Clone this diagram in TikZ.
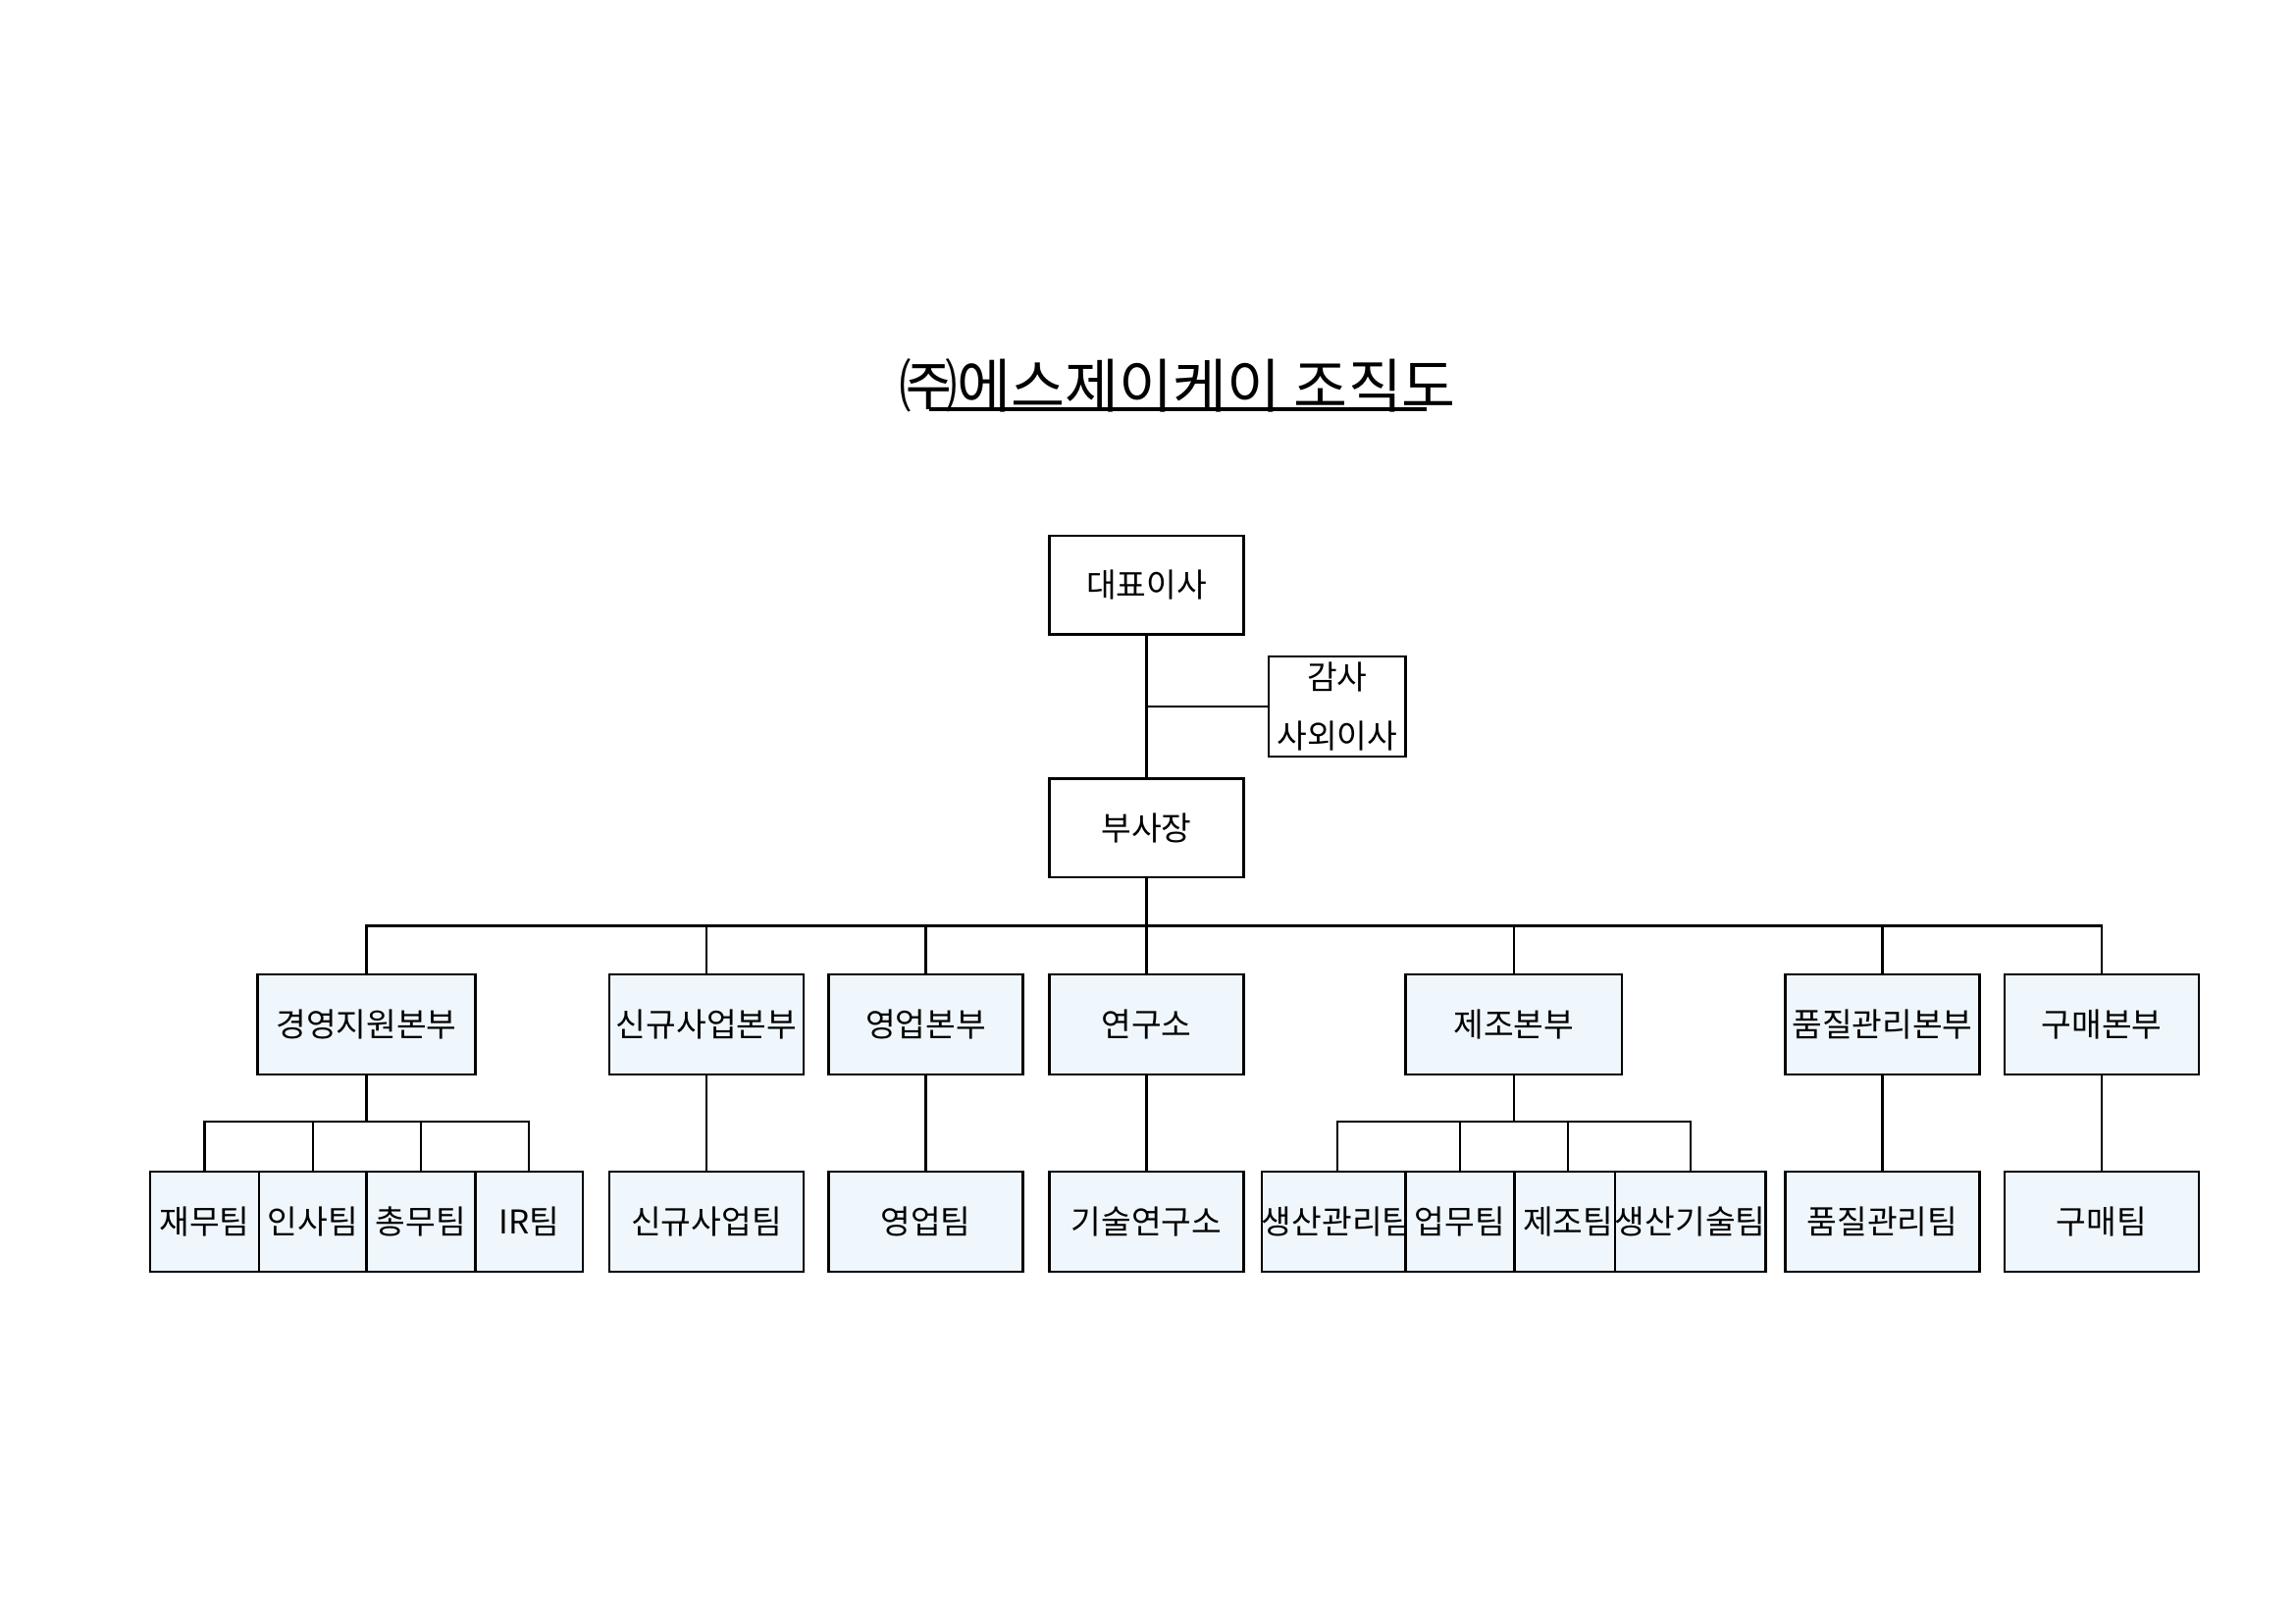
\documentclass[tikz,border=0pt]{standalone}
\usepackage{fontspec}
\setmainfont{Noto Sans CJK KR}
\definecolor{boxfill}{HTML}{F0F7FC}
\begin{document}
\begin{tikzpicture}[x=0.015cm,y=-0.015cm,
  bx/.style={draw,line width=0.7pt,inner sep=0pt,font=\fontsize{9.5}{11}\selectfont,align=center},
  wb/.style={bx,fill=white},
  lb/.style={bx,fill=boxfill},
  ln/.style={line width=0.7pt}]
\useasboundingbox (0,0) rectangle (1560,1102.7);
\fill[white] (0,0) rectangle (1560,1102.7);
\node[font=\fontsize{17}{20}\selectfont] (title) at (800,262) {㈜에스제이케이 조직도};
\draw[line width=0.9pt] (631,278) -- (969,278);
\newcommand{\bbox}[7]{\node[#1,minimum width=#4*0.015cm-#3*0.015cm,minimum height=#6*0.015cm-#5*0.015cm] (#2) at ({(#3+#4)/2},{(#5+#6)/2}) {#7};}
\bbox{wb}{ceo}{713}{845}{364}{431}{대표이사}
\bbox{wb}{aud}{862}{955}{446}{514}{감사\\[6pt]사외이사}
\bbox{wb}{vp}{713}{845}{529}{596}{부사장}
\bbox{lb}{d1}{175}{323}{662}{730}{경영지원본부}
\bbox{lb}{d2}{414}{546}{662}{730}{신규사업본부}
\bbox{lb}{d3}{563}{695}{662}{730}{영업본부}
\bbox{lb}{d4}{713}{845}{662}{730}{연구소}
\bbox{lb}{d5}{955}{1102}{662}{730}{제조본부}
\bbox{lb}{d6}{1213}{1345}{662}{730}{품질관리본부}
\bbox{lb}{d7}{1362}{1494}{662}{730}{구매본부}
\bbox{lb}{t1}{102}{176}{796}{864}{재무팀}
\bbox{lb}{t2}{176}{249}{796}{864}{인사팀}
\bbox{lb}{t3}{249}{323}{796}{864}{총무팀}
\bbox{lb}{t4}{323}{396}{796}{864}{IR팀}
\bbox{lb}{t5}{414}{546}{796}{864}{신규사업팀}
\bbox{lb}{t6}{563}{695}{796}{864}{영업팀}
\bbox{lb}{t7}{713}{845}{796}{864}{기술연구소}
\bbox{lb}{t8}{862}{955}{796}{864}{생산관리팀}
\bbox{lb}{t9}{955}{1029}{796}{864}{업무팀}
\bbox{lb}{t10}{1029}{1102}{796}{864}{제조팀}
\bbox{lb}{t11}{1102}{1195}{796}{864}{생산기술팀}
\bbox{lb}{t12}{1213}{1345}{796}{864}{품질관리팀}
\bbox{lb}{t13}{1362}{1494}{796}{864}{구매팀}
\draw[ln] (ceo.south) -- (vp.north);
\draw[ln] (779,480) -- (aud.west);
\coordinate (bus) at (779,629);
\draw[ln] (vp.south) -- (bus);
\foreach \dn in {d1,d2,d3,d4,d5,d6,d7}{\draw[ln] (\dn.north) |- (bus);}
\foreach \tn in {t1,t2,t3,t4}{\draw[ln] (\tn.north) -- ++(0,-33) -| (d1.south);}
\draw[ln] (d2.south) -- (t5.north);
\draw[ln] (d3.south) -- (t6.north);
\draw[ln] (d4.south) -- (t7.north);
\foreach \tn in {t8,t9,t10,t11}{\draw[ln] (\tn.north) -- ++(0,-33) -| (d5.south);}
\draw[ln] (d6.south) -- (t12.north);
\draw[ln] (d7.south) -- (t13.north);
\end{tikzpicture}
\end{document}
